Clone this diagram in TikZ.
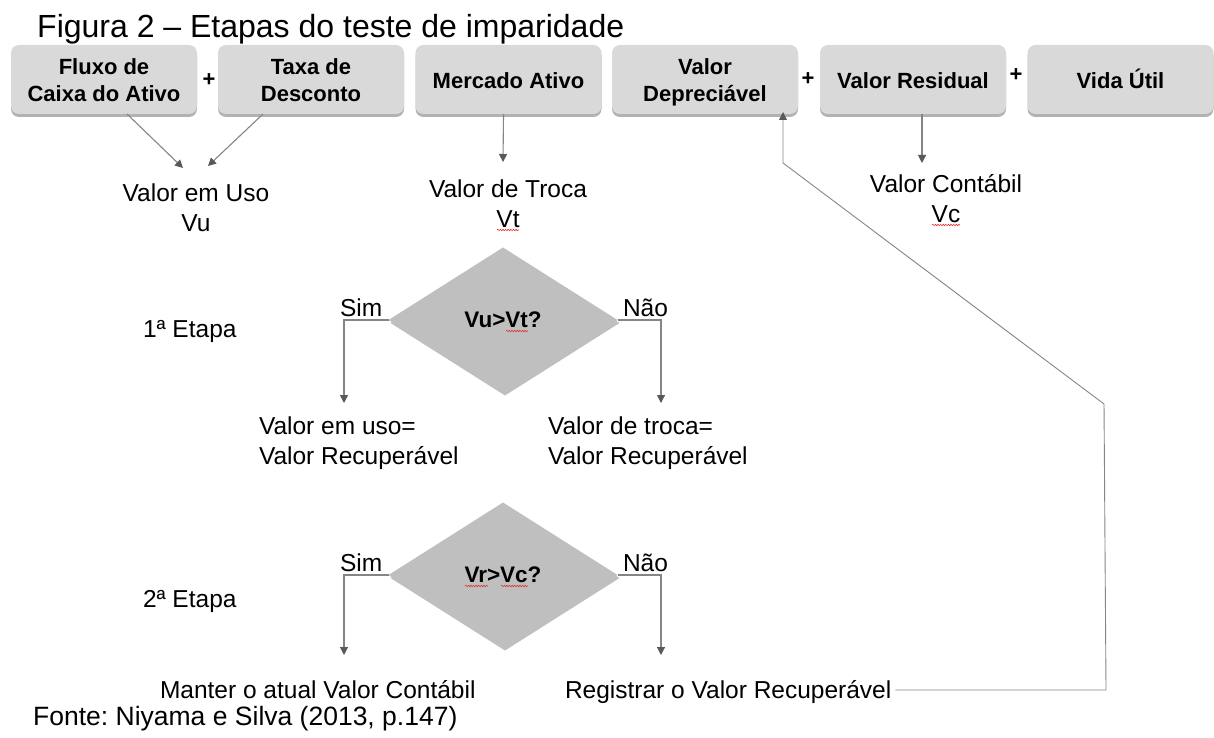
\documentclass[tikz,border=0pt]{standalone}
\usepackage{fontspec}
\setmainfont{Liberation Sans}
\usetikzlibrary{arrows.meta,shapes.geometric,shadows,decorations.pathmorphing,calc}
\definecolor{boxfill}{HTML}{D9D9D9}
\definecolor{diafill}{HTML}{BFBFBF}
\definecolor{linec}{HTML}{858585}
\definecolor{tipc}{HTML}{595959}
\definecolor{squigc}{HTML}{E03030}
\newcommand{\mystrutA}{\rule[-7pt]{0pt}{30pt}}
\newcommand{\mystrutB}{\rule[-4.5pt]{0pt}{27pt}}
\frenchspacing
\begin{document}
\begin{tikzpicture}[x=1pt,y=-1pt,
  box/.style={rounded corners=8pt, fill=boxfill, minimum width=186pt, minimum height=69pt,
    inner sep=0pt, outer sep=0pt, align=center, font=\fontsize{22}{27}\selectfont\bfseries,
    drop shadow={shadow xshift=0pt, shadow yshift=-3pt, opacity=0.3, fill=black}},
  txt/.style={inner sep=0pt, outer sep=0pt, font=\fontsize{24.5}{30}\selectfont},
  plus/.style={inner sep=0pt, font=\fontsize{22}{27}\selectfont\bfseries},
  dia/.style={diamond, aspect=1.59, minimum width=229pt, minimum height=145pt, inner sep=0pt,
    outer sep=0pt, fill=diafill, font=\fontsize{22.5}{26}\selectfont\bfseries,
    drop shadow={shadow xshift=2pt, shadow yshift=-3pt, opacity=0.25, fill=black}},
  arr/.style={draw=linec, line width=1.1pt, -{Triangle[length=8pt,width=8pt,color=tipc]}},
  fbline/.style={draw=linec, line width=0.9pt, -{Triangle[length=8pt,width=8pt,color=tipc]}},
  squig/.style={draw=squigc, line width=0.6pt, decorate, decoration={snake, amplitude=0.7pt, segment length=2.6pt}}
]
\useasboundingbox (0,0) rectangle (1214,738);

% title and source
\node[inner sep=0pt, anchor=base west, font=\fontsize{32}{36}\selectfont] (title) at (37,38) {Figura 2 -- Etapas do teste de imparidade};
\node[inner sep=0pt, anchor=base west, font=\fontsize{26.5}{30}\selectfont] (fonte) at (33,725) {Fonte: Niyama e Silva (2013, p.147)};

% top boxes
\node[box] (b1) at (104,79.5) {\mystrutB Fluxo de\\\mystrutB Caixa do Ativo};
\node[box] (b2) at (311,79.5) {\mystrutB Taxa de\\\mystrutB Desconto};
\node[box] (b3) at (508.5,79.5) {\mystrutB Mercado Ativo};
\node[box] (b4) at (705,79.5) {\mystrutB Valor\\\mystrutB Depreciável};
\node[box] (b5) at (913,79.5) {\mystrutB Valor Residual};
\node[box] (b6) at (1120.5,79.5) {\mystrutB Vida Útil};

\node[plus] (p1) at (209,80) {+};
\node[plus] (p2) at (808,79) {+};
\node[plus] (p3) at (1016,75) {+};

% value labels
\node[txt, anchor=north, align=center] (vu) at (196,178) {\mystrutA Valor em Uso\\\mystrutA Vu};
\node[txt, anchor=north, align=center] (vt) at (508,174) {\mystrutA Valor de Troca\\\mystrutA Vt};
\node[txt, anchor=north, align=center] (vc) at (946,169) {\mystrutA Valor Contábil\\\mystrutA Vc};

\draw[arr] ([xshift=23pt]b1.south) -- ([xshift=-13pt,yshift=10pt]vu.north);
\draw[arr] ([xshift=-48pt]b2.south) -- ([xshift=12pt,yshift=12pt]vu.north);
\draw[arr] ([xshift=-5pt]b3.south) -- ([xshift=-5pt,yshift=12pt]vt.north);
\draw[arr] ([xshift=9pt]b5.south) -- ([xshift=-24pt,yshift=6pt]vc.north);

% stage 1
\node[dia] (d1) at (503,320) {Vu>Vt?};
\node[txt, anchor=base west] (e1) at (143,337) {1ª Etapa};
\node[txt, anchor=base west] (sim1) at (340,316) {Sim};
\node[txt, anchor=base west] (nao1) at (623,316) {Não};
\node[txt, anchor=north west, align=left] (r1) at (259,411) {\mystrutA Valor em uso=\\\mystrutA Valor Recuperável};
\node[txt, anchor=north west, align=left] (r2) at (548,411) {\mystrutA Valor de troca=\\\mystrutA Valor Recuperável};
\draw[arr] (d1.west) -| ([xshift=85pt,yshift=8pt]r1.north west);
\draw[arr] (d1.east) -| ([xshift=113pt,yshift=8pt]r2.north west);

% stage 2
\node[dia] (d2) at (503,575) {Vr>Vc?};
\node[txt, anchor=base west] (e2) at (143,607) {2ª Etapa};
\node[txt, anchor=base west] (sim2) at (340,571) {Sim};
\node[txt, anchor=base west] (nao2) at (623,571) {Não};
\node[txt, anchor=base west] (m) at (160,698) {\mystrutA Manter o atual Valor Contábil};
\node[txt, anchor=base west] (reg) at (565,698) {\mystrutA Registrar o Valor Recuperável};
\draw[arr] (d2.west) -| ([xshift=184pt,yshift=20pt]m.north west);
\draw[arr] (d2.east) -| ([xshift=96pt,yshift=20pt]reg.north west);

% feedback loop
\coordinate (fb1) at (1106,690);
\coordinate (fb2) at (1104,404);
\coordinate (fb3) at (783,163);
\draw[fbline, shorten >=-2pt] ([xshift=4pt]reg.east) -- (reg.east -| fb1) -- (fb2) -- (fb3) -- (fb3 |- b4.south);

% spell-check squiggles
\draw[squig] (497,230) -- (519,230);
\draw[squig] (932,225) -- (960,225);
\draw[squig] (506,331) -- (528,331);
\draw[squig] (465,586) -- (488,586);
\draw[squig] (501,586) -- (528,586);
\end{tikzpicture}
\end{document}
